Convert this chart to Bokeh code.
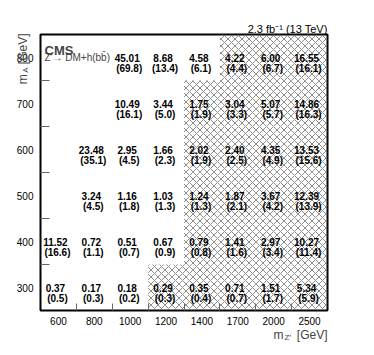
import math
from bokeh.plotting import figure
from bokeh.models import Range1d, FixedTicker, Label, ColumnDataSource
from bokeh.core.properties import value
from bokeh.embed import file_html
from bokeh.resources import INLINE

# ---------------- data ----------------
mz_values = [600, 800, 1000, 1200, 1400, 1700, 2000, 2500]
ma_values = [300, 400, 500, 600, 700, 800]

# first line (bold value) and second line (value in parentheses), per m_A row
upper_300 = [0.37, 0.17, 0.18, 0.29, 0.35, 0.71, 1.51, 5.34]
lower_300 = [0.5, 0.3, 0.2, 0.3, 0.4, 0.7, 1.7, 5.9]
excl_300 = [0, 0, 0, 1, 1, 1, 1, 1]

upper_400 = [11.52, 0.72, 0.51, 0.67, 0.79, 1.41, 2.97, 10.27]
lower_400 = [16.6, 1.1, 0.7, 0.9, 0.8, 1.6, 3.4, 11.4]
excl_400 = [0, 0, 0, 0, 1, 1, 1, 1]

upper_500 = [None, 3.24, 1.16, 1.03, 1.24, 1.87, 3.67, 12.39]
lower_500 = [None, 4.5, 1.8, 1.3, 1.3, 2.1, 4.2, 13.9]
excl_500 = [0, 0, 0, 0, 1, 1, 1, 1]

upper_600 = [None, 23.48, 2.95, 1.66, 2.02, 2.40, 4.35, 13.53]
lower_600 = [None, 35.1, 4.5, 2.3, 1.9, 2.5, 4.9, 15.6]
excl_600 = [0, 0, 0, 0, 1, 1, 1, 1]

upper_700 = [None, None, 10.49, 3.44, 1.75, 3.04, 5.07, 14.86]
lower_700 = [None, None, 16.1, 5.0, 1.9, 3.3, 5.7, 16.3]
excl_700 = [0, 0, 0, 0, 1, 1, 1, 1]

upper_800 = [None, None, 45.01, 8.68, 4.58, 4.22, 6.00, 16.55]
lower_800 = [None, None, 69.8, 13.4, 6.1, 4.4, 6.7, 16.1]
excl_800 = [0, 0, 0, 0, 0, 1, 1, 1]

upper_rows = [upper_300, upper_400, upper_500, upper_600, upper_700, upper_800]
lower_rows = [lower_300, lower_400, lower_500, lower_600, lower_700, lower_800]
excl_rows = [excl_300, excl_400, excl_500, excl_600, excl_700, excl_800]

# ---------------- build sources ----------------
tx, ty, t_up, t_low = [], [], [], []
hl, hr, hb, ht = [], [], [], []
for r, ma in enumerate(ma_values):
    for c, mz in enumerate(mz_values):
        if excl_rows[r][c]:
            hl.append(c)
            hr.append(c + 1)
            hb.append(r)
            ht.append(r + 1)
        u = upper_rows[r][c]
        if u is None:
            continue
        tx.append(c + 0.5)
        ty.append(r + 0.5)
        t_up.append(f"{u:.2f}")
        t_low.append(f"({lower_rows[r][c]:.1f})")

text_src = ColumnDataSource(dict(x=tx, y=ty, up=t_up, low=t_low))
hatch_src = ColumnDataSource(dict(left=hl, right=hr, bottom=hb, top=ht))

FONT = "Liberation Sans"

p = figure(width=370, height=350,
           x_range=Range1d(0, len(mz_values)), y_range=Range1d(0, len(ma_values)),
           output_backend="svg", toolbar_location=None,
           min_border_left=40, min_border_right=43,
           min_border_top=34, min_border_bottom=40)
p.grid.visible = False
p.outline_line_color = "black"
p.outline_line_width = 2
p.background_fill_color = "white"
p.border_fill_color = "white"

# luminosity / energy title (top right, above the frame)
p.title.text = "2.3 fb\u207b\u00b9 (13 TeV)"
p.title.align = "right"
p.title.vertical_align = "bottom"
p.title.standoff = 0
p.title.offset = 0
p.title.text_font = FONT
p.title.text_font_size = "11px"
p.title.text_font_style = "normal"
p.title.text_color = "black"

# hatched (excluded) cells
p.quad(left="left", right="right", bottom="bottom", top="top", source=hatch_src,
       fill_alpha=0, line_color=None,
       hatch_pattern="x", hatch_color="#707070", hatch_scale=7, hatch_weight=0.8)

# cell texts
p.text(x="x", y="y", text="up", source=text_src,
       text_font=value(FONT), text_font_size="10px", text_font_style="bold",
       text_align="center", text_baseline="middle", x_offset=-3, text_color="black")
p.text(x="x", y="y", text="low", source=text_src,
       text_font=value(FONT), text_font_size="10px", text_font_style="bold",
       text_align="center", text_baseline="middle", x_offset=-1, y_offset=11,
       text_color="black")

# axes
xa = p.xaxis[0]
xa.ticker = FixedTicker(ticks=[i + 0.5 for i in range(len(mz_values))],
                        minor_ticks=list(range(1, len(mz_values))))
xa.major_label_overrides = {i + 0.5: str(v) for i, v in enumerate(mz_values)}
ya = p.yaxis[0]
ya.ticker = FixedTicker(ticks=[i + 0.5 for i in range(len(ma_values))],
                        minor_ticks=list(range(1, len(ma_values))))
ya.major_label_overrides = {i + 0.5: str(v) for i, v in enumerate(ma_values)}

for ax, std, tin in ((xa, 6, 7), (ya, 7, 9)):
    ax.axis_line_color = None
    ax.major_tick_in = 0
    ax.major_tick_out = 0
    ax.minor_tick_in = tin
    ax.minor_tick_out = 0
    ax.minor_tick_line_color = "#666666"
    ax.minor_tick_line_width = 1
    ax.major_label_standoff = std
    ax.major_label_text_font = FONT
    ax.major_label_text_font_size = "10px"
    ax.major_label_text_color = "black"
ya.major_label_orientation = "horizontal"

# annotations inside the frame
nx = len(mz_values)
ny = len(ma_values)
p.add_layout(Label(x=0, y=ny, x_offset=4, y_offset=-16, text="CMS",
                   text_font=FONT, text_font_size="13px", text_font_style="bold",
                   text_baseline="alphabetic", text_align="left"))
p.add_layout(Label(x=0, y=ny, x_offset=4, y_offset=-23, text="Z\u2032\u2192 DM+h(bb\u0304)",
                   text_font=FONT, text_font_size="10px",
                   text_baseline="alphabetic", text_align="left"))


def canvas_label(x, y, text, size, place, align="left", angle=0.0):
    p.add_layout(Label(x=x, y=y, x_units="canvas", y_units="canvas", text=text,
                       angle=angle, text_font=FONT, text_font_size=size,
                       text_baseline="alphabetic", text_align=align), place)


NB = "\u00a0"
# axis titles outside the frame (placed in side panels so they are not clipped)
canvas_label(327, 334, "m" + NB * 4 + "[GeV]", "12px", "below", "right")
canvas_label(284, 337, "Z\u2032", "8px", "right", "left")
canvas_label(22, 33, "m" + NB * 3 + "[GeV]", "12px", "right", "right", math.pi / 2)
canvas_label(25, 67, "A", "8px", "left", "right", math.pi / 2)

open("out.html", "w").write(file_html(p, INLINE))
